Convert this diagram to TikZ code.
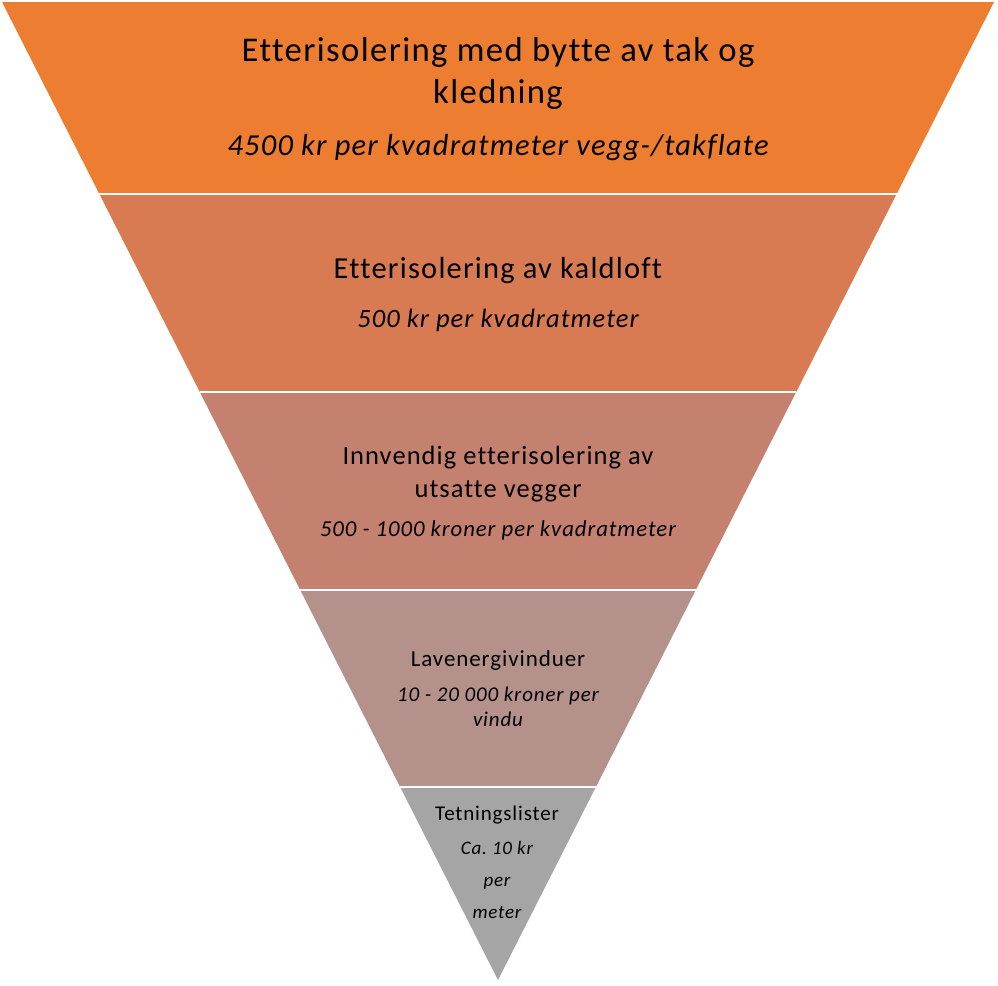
\documentclass[tikz,border=0pt]{standalone}
\usepackage{fontspec}
\setmainfont{Carlito}[Ligatures=NoCommon, LetterSpace=4]
\usetikzlibrary{calc}
\frenchspacing

\definecolor{lagA}{HTML}{ED7D31}
\definecolor{lagB}{HTML}{D87B53}
\definecolor{lagC}{HTML}{C5816F}
\definecolor{lagD}{HTML}{B4918A}
\definecolor{lagE}{HTML}{A5A5A5}

\tikzset{
  lag/.style={draw=white, line width=2.5pt, line join=miter},
  tittel/.style={align=center, inner sep=0pt},
  pris/.style={align=center, inner sep=0pt, font=\itshape}
}

\begin{document}
\begin{tikzpicture}[x=1pt, y=-1pt]
        \useasboundingbox (0,0) rectangle (998,985);

        % kantene av trekanten
        \coordinate (tl) at (2,2);
        \coordinate (tr) at (994,2);
        \coordinate (spiss) at (498,980);
        \coordinate (l1) at ($(tl)!0.1963!(spiss)$);
        \coordinate (r1) at ($(tr)!0.1963!(spiss)$);
        \coordinate (l2) at ($(tl)!0.3988!(spiss)$);
        \coordinate (r2) at ($(tr)!0.3988!(spiss)$);
        \coordinate (l3) at ($(tl)!0.6012!(spiss)$);
        \coordinate (r3) at ($(tr)!0.6012!(spiss)$);
        \coordinate (l4) at ($(tl)!0.8027!(spiss)$);
        \coordinate (r4) at ($(tr)!0.8027!(spiss)$);

        % lagene
        \fill[lagA] (tl) -- (tr) -- (r1) -- (l1) -- cycle;
        \fill[lagB] (l1) -- (r1) -- (r2) -- (l2) -- cycle;
        \fill[lagC] (l2) -- (r2) -- (r3) -- (l3) -- cycle;
        \fill[lagD] (l3) -- (r3) -- (r4) -- (l4) -- cycle;
        \fill[lagE] (l4) -- (r4) -- (spiss) -- cycle;
        \draw[lag] (l1) -- (r1);
        \draw[lag] (l2) -- (r2);
        \draw[lag] (l3) -- (r3);
        \draw[lag] (l4) -- (r4);

        % tekst
        \node[tittel, font=\fontsize{34.7}{42}\selectfont] (t1) at (498,73) {Etterisolering med bytte av tak og\\kledning};
        \node[pris, font=\fontsize{30.5}{34}\selectfont\itshape] (p1) at (498,148) {4500 kr per kvadratmeter vegg-/takflate};

        \node[tittel, font=\fontsize{30.5}{34}\selectfont] (t2) at (498,271) {Etterisolering av kaldloft};
        \node[pris, font=\fontsize{26.5}{30}\selectfont\itshape] (p2) at (498,320) {500 kr per kvadratmeter};

        \node[tittel, font=\fontsize{26.5}{33}\selectfont] (t3) at (498,474) {Innvendig etterisolering av\\utsatte vegger};
        \node[pris, font=\fontsize{22.8}{26}\selectfont\itshape] (p3) at (498,530) {500 - 1000 kroner per kvadratmeter};

        \node[tittel, font=\fontsize{23}{26}\selectfont] (t4) at (498,660) {Lavenergivinduer};
        \node[pris, font=\fontsize{21}{25}\selectfont\itshape] (p4) at (498,707) {10 - 20 000 kroner per\\vindu};

        \node[tittel, font=\fontsize{21}{24}\selectfont] (t5) at (497,815) {Tetningslister};
        \node[pris, font=\fontsize{19}{32}\selectfont\itshape] (p5) at (497,880) {Ca. 10 kr\\per\\meter};
    \end{tikzpicture}
\end{document}
